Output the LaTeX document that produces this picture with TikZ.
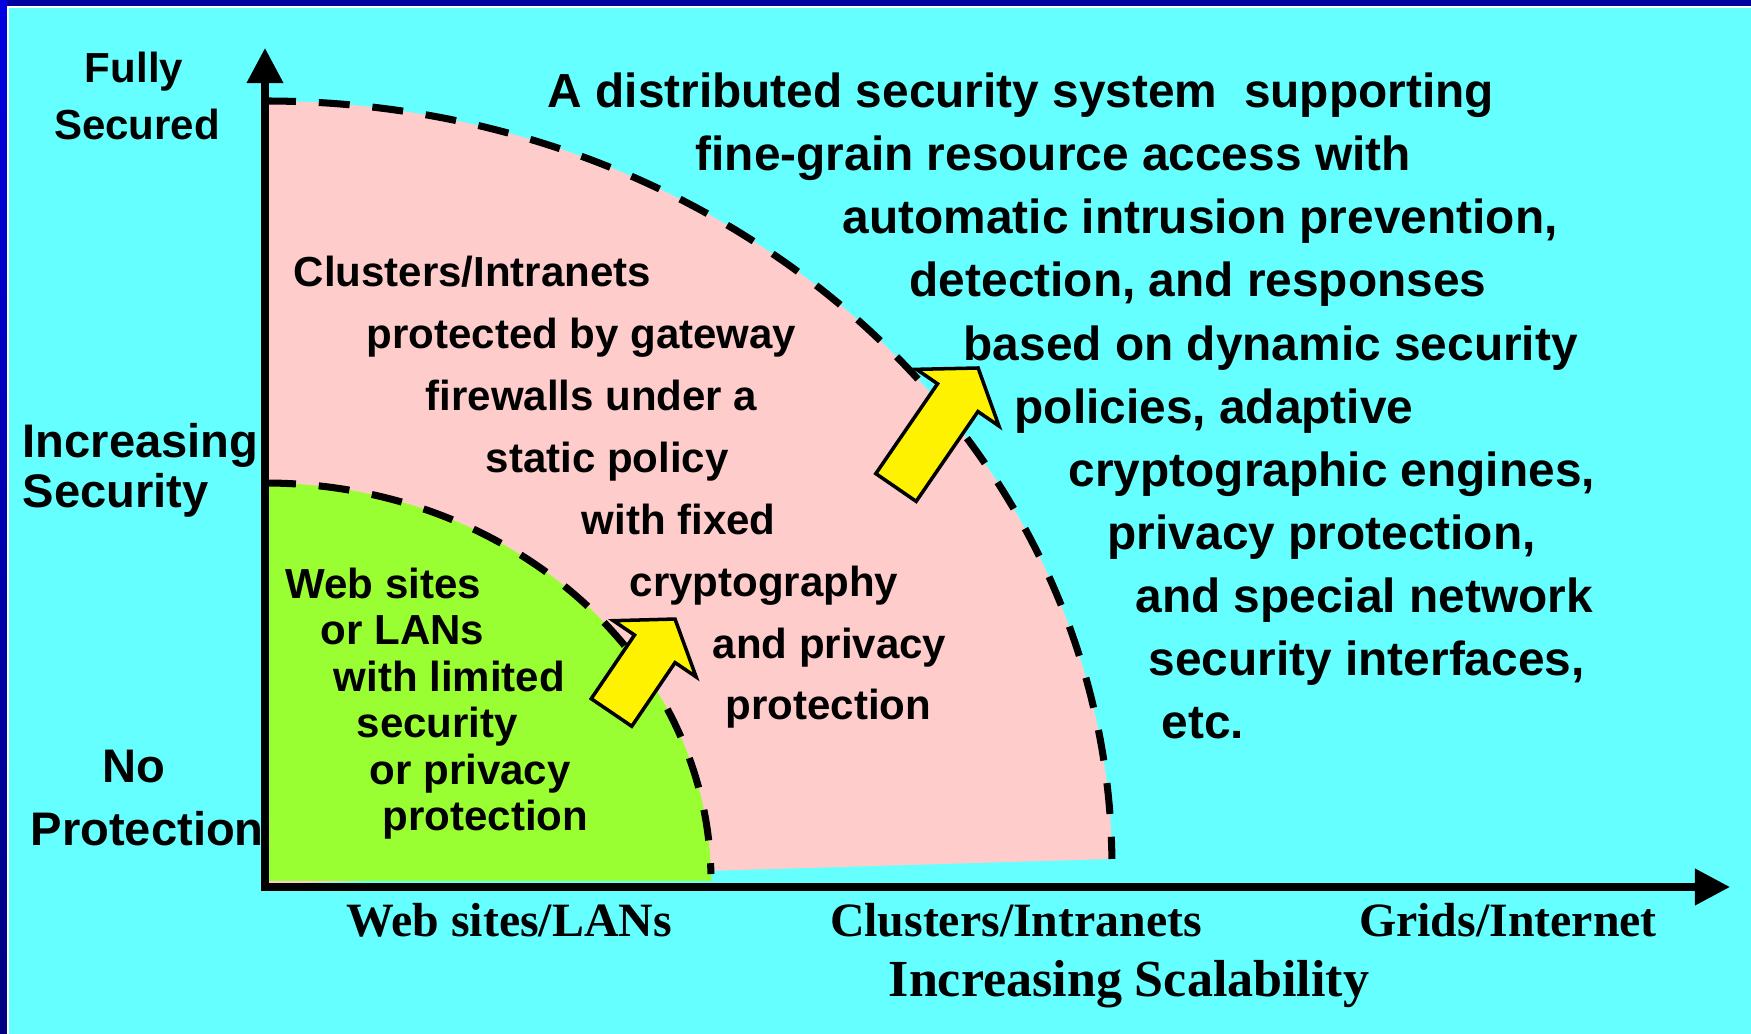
\documentclass[tikz,border=0pt]{standalone}
\usepackage{fontspec}
\setmainfont{Liberation Serif}
\setsansfont{Liberation Sans}
\usetikzlibrary{arrows.meta}

\definecolor{bgcyan}{RGB}{102,255,255}
\definecolor{zonepink}{RGB}{255,204,204}
\definecolor{zonegreen}{RGB}{153,255,51}
\definecolor{frameblue}{RGB}{0,0,160}
\definecolor{framebright}{RGB}{0,0,225}
\definecolor{framedark}{RGB}{0,0,128}

\tikzset{
  bigtxt/.style={font=\sffamily\bfseries\fontsize{13.6}{16}\selectfont, inner sep=0pt, anchor=base west},
  sidetxt/.style={font=\sffamily\bfseries\fontsize{13.4}{16}\selectfont, inner sep=0pt},
  smalltxt/.style={font=\sffamily\bfseries\fontsize{11.95}{14}\selectfont, inner sep=0pt},
  zonetxt/.style={smalltxt, anchor=base west},
  scaletxt/.style={font=\rmfamily\bfseries\fontsize{13.6}{16}\selectfont, inner sep=0pt, anchor=base},
  boundary/.style={line width=2pt, dash pattern=on 8.8pt off 6.5pt},
  axisline/.style={line width=2pt, -{Triangle[length=10pt,width=10pt]}},
  arrowbody/.style={fill=yellow, draw=black, line width=1pt, line join=miter}
}

\begin{document}
\begin{tikzpicture}[x=0.01cm, y=-0.01cm]
\useasboundingbox (0,0) rectangle (1751,1034);

% background and frame
\fill[bgcyan] (0,0) rectangle (1751,1034);
\fill[frameblue] (0,0) rectangle (1751,6);
\shade[top color=framebright, bottom color=framedark] (0,0) rectangle (7,1034);
\fill[white] (7,6) rectangle (1751,8);
\fill[white] (7,6) rectangle (9,1034);

% outer zone: clusters / intranets
\fill[zonepink] (265,101) arc[start angle=-90, end angle=-0.6, x radius=847, y radius=766]
  -- (265,884) -- cycle;
\draw[boundary] (265,101) arc[start angle=-90, end angle=-0.6, x radius=847, y radius=766];

% inner zone: web sites / LANs
\fill[zonegreen] (265,483) arc[start angle=-90, end angle=-1, x radius=446, y radius=398]
  -- (712,881) -- (265,881) -- cycle;
\draw[boundary] (265,483) arc[start angle=-90, end angle=-1, x radius=446, y radius=398];

% axes
\coordinate (origin) at (265,884);
\coordinate (ytop) at (265,48);
\coordinate (xstart) at (261,887);
\coordinate (xend) at (1730,887);
\draw[axisline] (origin) -- (ytop);
\draw[axisline] (xstart) -- (xend);

% growth arrows
\begin{scope}[shift={(611.5,712.5)}, rotate=55.8]
  \draw[arrowbody] (0,-24.5) -- (77,-24.5) -- (77,-50) -- (113,0) -- (77,50) -- (77,24.5) -- (0,24.5) -- cycle;
\end{scope}
\begin{scope}[shift={(896,487.5)}, rotate=55.5]
  \draw[arrowbody] (0,-24.5) -- (109,-24.5) -- (109,-50) -- (145,0) -- (109,50) -- (109,24.5) -- (0,24.5) -- cycle;
\end{scope}

% vertical axis labels
\node[smalltxt, anchor=base] (fully) at (134,83) {Fully};
\node[smalltxt, anchor=base] (secured) at (137,140) {Secured};
\node[sidetxt, anchor=base west] (incr) at (22,458) {Increasing};
\node[sidetxt, anchor=base west] (secu) at (22,508) {Security};
\node[sidetxt, anchor=base] (no) at (134,783) {No};
\node[sidetxt, anchor=base west] (prot) at (30,846) {Protection};

% horizontal axis labels
\node[scaletxt] (webaxis) at (509,937) {Web sites/LANs};
\node[scaletxt] (clusteraxis) at (1016,937) {Clusters/Intranets};
\node[scaletxt] (gridaxis) at (1508,937) {Grids/Internet};
\node[scaletxt, font=\rmfamily\bfseries\fontsize{14.8}{17}\selectfont] (scal) at (1129,997) {Increasing Scalability};

% inner zone text
\node[zonetxt] (g1) at (285,598.5) {Web sites};
\node[zonetxt] (g2) at (320,645) {or LANs};
\node[zonetxt] (g3) at (333,691.5) {with limited};
\node[zonetxt] (g4) at (356,738) {security};
\node[zonetxt] (g5) at (369,784.5) {or privacy};
\node[zonetxt] (g6) at (382,831) {protection};

% outer zone text
\node[zonetxt] (p1) at (293,286.7) {Clusters/Intranets};
\node[zonetxt] (p2) at (366,348.6) {protected by gateway};
\node[zonetxt] (p3) at (425,410.5) {firewalls under a};
\node[zonetxt] (p4) at (485,472.4) {static policy};
\node[zonetxt] (p5) at (581,534.3) {with fixed};
\node[zonetxt] (p6) at (629,596.2) {cryptography};
\node[zonetxt] (p7) at (712,658.1) {and privacy};
\node[zonetxt] (p8) at (725,720) {protection};

% grid-level description
\node[bigtxt] (d1) at (547,107.7) {A distributed security system\ \ supporting};
\node[bigtxt] (d2) at (695,170.8) {fine-grain resource access with};
\node[bigtxt] (d3) at (842,233.9) {automatic intrusion prevention,};
\node[bigtxt] (d4) at (909,297) {detection, and responses};
\node[bigtxt] (d5) at (963,360.1) {based on dynamic security};
\node[bigtxt] (d6) at (1014,423.2) {policies, adaptive};
\node[bigtxt] (d7) at (1068,486.3) {cryptographic engines,};
\node[bigtxt] (d8) at (1107,549.4) {privacy protection,};
\node[bigtxt] (d9) at (1135,612.5) {and special network};
\node[bigtxt] (d10) at (1148,675.6) {security interfaces,};
\node[bigtxt] (d11) at (1161,738.7) {etc.};
\end{tikzpicture}
\end{document}
